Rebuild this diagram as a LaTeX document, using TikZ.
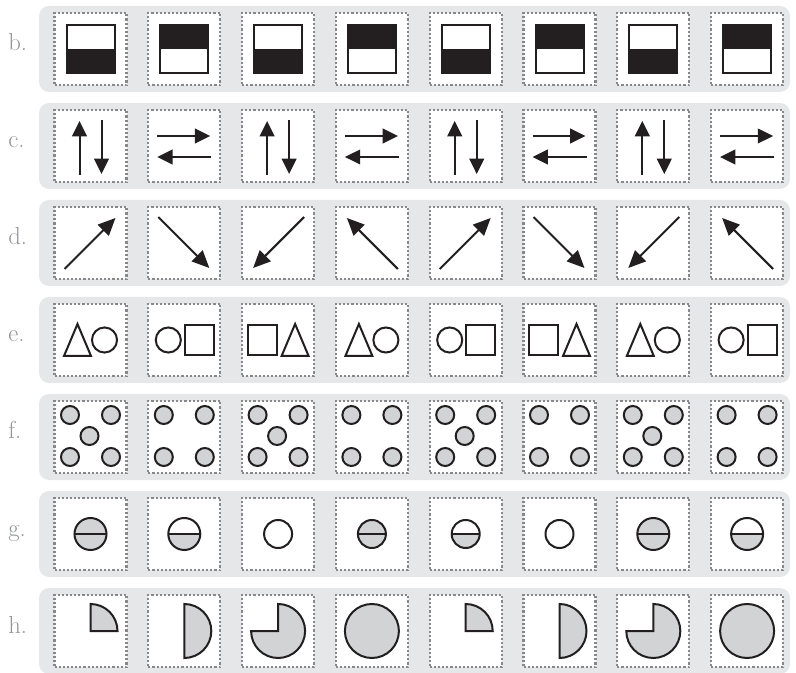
\documentclass[tikz,border=0pt]{standalone}
\usepackage{fontspec}
\usetikzlibrary{arrows.meta}

\begin{document}
\begin{tikzpicture}[x=0.75pt, y=-0.75pt]
    % Define colours
    \definecolor{bandColour}{HTML}{E6E7E8}
    \definecolor{dotColour}{HTML}{939598}
    \definecolor{edgeColour}{HTML}{86888B}
    \definecolor{shadeColour}{HTML}{D1D3D4}
    \definecolor{inkColour}{HTML}{231F20}

    % Define layout
    \def\colPitch{93.8}
    \def\rowPitch{97}

    \tikzset{
        cell/.style={draw=edgeColour, fill=white, line width=1.6pt, dash pattern=on 1.6pt off 1.5pt, minimum size=54pt, inner sep=0pt},
        tag/.style={text=dotColour, font=\fontsize{18.5}{20}\selectfont, inner sep=0pt, anchor=base west},
        ink/.style={draw=inkColour, line width=1.5pt},
        shade/.style={ink, fill=shadeColour},
        arrowline/.style={ink, -{Triangle[length=11.5pt, width=11pt]}},
        diagline/.style={ink, -{Triangle[length=13pt, width=11.5pt]}}
    }

    \useasboundingbox (0,0) rectangle (796,673);

    % Draw bands, labels and cells
    \foreach \l [count=\r from 0] in {b,c,d,e,f,g,h} {
        \pgfmathsetmacro\cy{49+\rowPitch*\r}
        \fill[bandColour, rounded corners=7.5pt] (39,\cy-43) rectangle (790,\cy+43);
        \node[tag] (tag-\l) at (8,\cy+2) {\l.};
        \foreach \k in {0,...,7}
            \node[cell] (cell-\l-\k) at (90.5+\colPitch*\k,\cy) {};
    }

    % Row b: half-filled squares
    \foreach \k in {0,...,7} {
        \pgfmathsetmacro\cx{90.5+\colPitch*\k}
        \ifodd\k
            \fill[inkColour] (\cx-24,25) rectangle (\cx+24,49);
        \else
            \fill[inkColour] (\cx-24,49) rectangle (\cx+24,73);
        \fi
        \draw[ink] (\cx-24,25) rectangle (\cx+24,73);
    }

    % Row c: paired arrows
    \foreach \k in {0,...,7} {
        \pgfmathsetmacro\cx{90.5+\colPitch*\k}
        \ifodd\k
            \draw[arrowline] (\cx-27,136) -- (\cx+26,136);
            \draw[arrowline] (\cx+27,157) -- (\cx-27,157);
        \else
            \draw[arrowline] (\cx-11,175) -- (\cx-11,121);
            \draw[arrowline] (\cx+11,120) -- (\cx+11,174);
        \fi
    }

    % Row d: diagonal arrows
    \foreach \k/\dx/\dy in {0/1/-1,1/1/1,2/-1/1,3/-1/-1,4/1/-1,5/1/1,6/-1/1,7/-1/-1} {
        \pgfmathsetmacro\cx{90.5+\colPitch*\k}
        \draw[diagline] ({\cx-26*(\dx)},{243-26*(\dy)}) -- ({\cx+25*(\dx)},{243+25*(\dy)});
    }

    % Row e: shape pairs
    \foreach \k in {0,...,7} {
        \pgfmathsetmacro\cx{90.5+\colPitch*\k}
        \pgfmathtruncatemacro\m{mod(\k,3)}
        \ifcase\m
            \draw[ink] (\cx-26.5,356) -- (\cx-13,324) -- (\cx+0.5,356) -- cycle;
            \draw[ink] (\cx+14,340) circle[radius=9.4pt];
        \or
            \draw[ink] (\cx-16,340) circle[radius=9.4pt];
            \draw[ink] (\cx+0.5,325) rectangle (\cx+29.5,355);
        \or
            \draw[ink] (\cx-30.5,325) rectangle (\cx-1.5,355);
            \draw[ink] (\cx+3.5,356) -- (\cx+17,324) -- (\cx+30.5,356) -- cycle;
        \fi
    }

    % Row f: dots
    \foreach \k in {0,...,7} {
        \pgfmathsetmacro\cx{90.5+\colPitch*\k}
        \foreach \dx/\dy in {-1/-1,1/-1,-1/1,1/1}
            \draw[shade] ({\cx+20.5*(\dx)},{436+21*(\dy)}) circle[radius=6.75pt];
        \ifodd\k\else
            \draw[shade] (\cx-1,436) circle[radius=6.75pt];
        \fi
    }

    % Row g: split discs (0 plain, 1 lower half shaded, 2 shaded)
    \foreach \k/\rad/\kind in {0/12pt/2,1/12pt/1,2/10.5pt/0,3/10.5pt/2,4/10.5pt/1,5/10.5pt/0,6/12pt/2,7/12pt/1} {
        \pgfmathsetmacro\cx{90.5+\colPitch*\k}
        \ifcase\kind
            \draw[ink] (\cx,534) circle[radius=\rad];
        \or
            \fill[shadeColour] (\cx,534) ++(180:\rad) arc[start angle=180, end angle=360, radius=\rad] -- cycle;
            \draw[ink] (\cx,534) circle[radius=\rad];
            \draw[ink] ([shift={(180:\rad)}]\cx,534) -- ([shift={(0:\rad)}]\cx,534);
        \or
            \draw[shade] (\cx,534) circle[radius=\rad];
            \draw[ink] ([shift={(180:\rad)}]\cx,534) -- ([shift={(0:\rad)}]\cx,534);
        \fi
    }

    % Row h: growing pie
    \foreach \k in {0,...,7} {
        \pgfmathsetmacro\cx{90.5+\colPitch*\k}
        \pgfmathtruncatemacro\m{mod(\k,4)}
        \ifcase\m
            \draw[shade] (\cx,631) -- ++(0:20.25pt) arc[start angle=0, end angle=90, radius=20.25pt] -- cycle;
        \or
            \draw[shade] (\cx,631) -- ++(-90:20.25pt) arc[start angle=-90, end angle=90, radius=20.25pt] -- cycle;
        \or
            \draw[shade] (\cx,631) -- ++(180:20.25pt) arc[start angle=180, end angle=450, radius=20.25pt] -- cycle;
        \or
            \draw[shade] (\cx,631) circle[radius=20.25pt];
        \fi
    }
\end{tikzpicture}
\end{document}
